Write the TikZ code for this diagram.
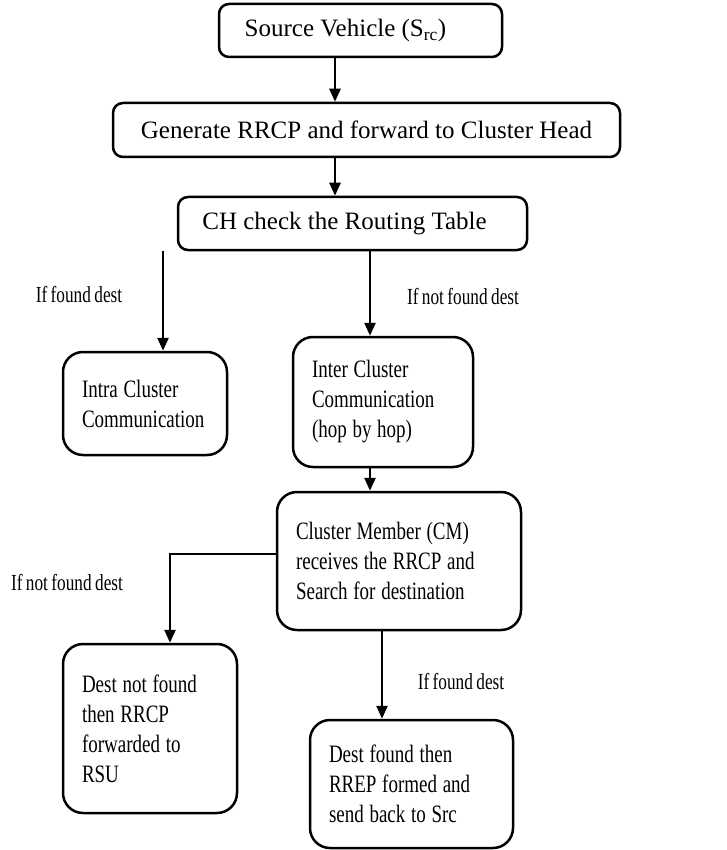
\documentclass[tikz,border=0pt]{standalone}
\usepackage{fontspec}
\setmainfont{Liberation Serif}
\newfontfamily\condfont[FakeStretch=0.76,WordSpace=1.2]{Liberation Serif}
\newfontfamily\lblfont[FakeStretch=0.75,WordSpace=0.8]{Liberation Serif}
\usepackage{tikz}
\usetikzlibrary{arrows.meta,positioning}

\begin{document}
\begin{tikzpicture}[x=1pt, y=-1pt,
    box/.style={draw, line width=2.5pt, rounded corners=10pt, inner sep=0pt, font=\fontsize{25}{30}\selectfont},
    tallbox/.style={box, rounded corners=20pt, align=flush left, inner xsep=19pt, font=\condfont\fontsize{25}{30}\selectfont},
    lbl/.style={font=\lblfont\fontsize{23}{28}\selectfont},
    arr/.style={line width=2.5pt, -{Triangle[length=13pt,width=11pt]}}]
    \useasboundingbox (0,0) rectangle (727,850);

    % Top chain
    \node[box, minimum width=283pt, minimum height=53pt] (src) at (360.5,30.5) {Source Vehicle (S\textsubscript{rc})\hspace*{30pt}};
    \node[box, minimum width=507pt, minimum height=54pt] (gen) at (366.5,130) {Generate RRCP and forward to Cluster Head};
    \node[box, minimum width=349pt, minimum height=53pt] (chk) at (352.5,223.5) {CH check the Routing Table\hspace*{16pt}};

    % Branches after routing table
    \node[tallbox, text width=126pt, minimum height=103pt] (intra) at (145,403.5) {Intra Cluster\\Communication};
    \node[tallbox, text width=142pt, minimum height=130pt] (inter) at (383,402) {Inter Cluster\\Communication\\(hop by hop)};
    \node[tallbox, text width=206pt, minimum height=138pt] (cm) at (399,561) {Cluster Member (CM)\\receives the RRCP and\\Search for destination};
    \node[tallbox, text width=136pt, minimum height=169pt] (dnf) at (150,728.5) {Dest not found\\then RRCP\\forwarded to\\RSU};
    \node[tallbox, text width=165pt, minimum height=128pt] (dfound) at (411.5,784) {Dest found then\\RREP formed and\\send back to Src};

    % Branch labels
    \node[lbl] (lfound) at (79,295) {If found dest};
    \node[lbl] (lnot) at (463,297) {If not found dest};
    \node[lbl] (lnotcm) at (67,583) {If not found dest};
    \node[lbl] (lfoundcm) at (461,682) {If found dest};

    % Arrows
    \draw[arr] ([xshift=-25.5pt]src.south) -- ([xshift=-25.5pt]src.south |- gen.north);
    \draw[arr] ([xshift=-31.5pt]gen.south) -- ([xshift=-31.5pt]gen.south |- chk.north);
    \draw[arr] ([xshift=18pt]intra.north |- chk.south) -- ([xshift=18pt]intra.north);
    \draw[arr] ([xshift=-13pt]inter.north |- chk.south) -- ([xshift=-13pt]inter.north);
    \draw[arr] ([xshift=-13pt]inter.south) -- ([xshift=-13pt]inter.south |- cm.north);
    \draw[arr] ([yshift=7pt]cm.west) -| ([xshift=20pt]dnf.north);
    \draw[arr] ([xshift=-17pt]cm.south) -- ([xshift=-17pt]cm.south |- dfound.north);
\end{tikzpicture}
\end{document}
